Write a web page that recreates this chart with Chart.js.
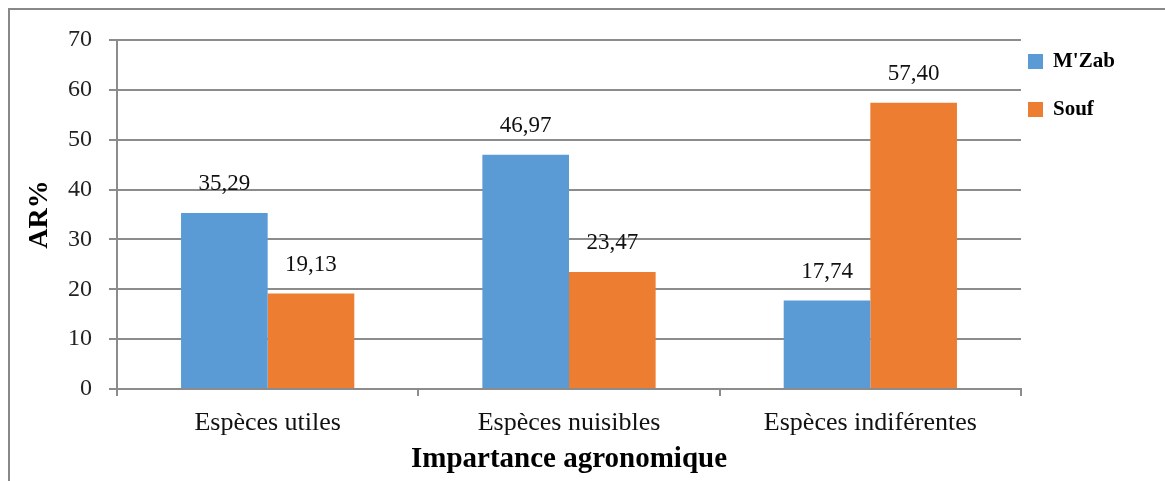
<!DOCTYPE html>
<html>
<head>
<meta charset="utf-8">
<script src="https://cdn.jsdelivr.net/npm/chart.js@4"></script>
<style>
  html, body { margin: 0; padding: 0; background: #fff; }
  #wrap { width: 1165px; height: 481px; }
</style>
</head>
<body>
<div id="wrap"><canvas id="chart" width="1165" height="481"></canvas></div>
<script>
// data
const categories = ['Espèces utiles', 'Espèces nuisibles', 'Espèces indiférentes'];
const mzab = [35.29, 46.97, 17.74];
const souf = [19.13, 23.47, 57.40];
const yTicks = [0, 10, 20, 30, 40, 50, 60, 70];

const SERIF = '"Liberation Serif", "Times New Roman", serif';
const GREY = '#8c8c8c';

// outer grey frame (only top/left visible in the picture)
const framePlugin = {
  id: 'frame',
  beforeDraw(chart) {
    const ctx = chart.ctx;
    ctx.save();
    ctx.fillStyle = '#fff';
    ctx.fillRect(0, 0, chart.width, chart.height);
    ctx.strokeStyle = '#888';
    ctx.lineWidth = 2;
    ctx.strokeRect(9, 9, 2000, 2000);
    ctx.restore();
  }
};

// value labels above bars, decimal comma
const valueLabels = {
  id: 'valueLabels',
  afterDatasetsDraw(chart) {
    const ctx = chart.ctx;
    ctx.save();
    ctx.font = '23px ' + SERIF;
    ctx.fillStyle = '#111';
    ctx.textAlign = 'center';
    ctx.textBaseline = 'middle';
    chart.data.datasets.forEach((ds, i) => {
      chart.getDatasetMeta(i).data.forEach((bar, j) => {
        const txt = ds.data[j].toFixed(2).replace('.', ',');
        ctx.fillText(txt, bar.x, bar.y - 29);
      });
    });
    ctx.restore();
  }
};

// legend on the right, drawn by hand to sit where the original has it
const sideLegend = {
  id: 'sideLegend',
  afterDraw(chart) {
    const ctx = chart.ctx;
    ctx.save();
    ctx.font = 'bold 21px ' + SERIF;
    ctx.textBaseline = 'middle';
    chart.data.datasets.forEach((ds, i) => {
      const y = 61 + i * 48;
      ctx.fillStyle = ds.backgroundColor;
      ctx.fillRect(1028, y - 7, 15, 15);
      ctx.fillStyle = '#000';
      ctx.fillText(ds.label, 1053, y + 1);
    });
    ctx.restore();
  }
};

new Chart(document.getElementById('chart'), {
  type: 'bar',
  data: {
    labels: categories,
    datasets: [
      { label: "M'Zab", data: mzab, backgroundColor: '#5B9BD5' },
      { label: 'Souf', data: souf, backgroundColor: '#ED7D31' }
    ]
  },
  options: {
    responsive: false,
    animation: false,
    devicePixelRatio: 1,
    layout: { padding: { left: 0, top: 40, right: 144, bottom: 0 } },
    plugins: {
      legend: { display: false },
      tooltip: { enabled: false }
    },
    datasets: {
      bar: { barPercentage: 1, categoryPercentage: 0.575 }
    },
    scales: {
      x: {
        grid: { display: true, drawOnChartArea: false, color: GREY, lineWidth: 2, tickLength: 7, offset: true },
        border: { color: GREY, width: 2 },
        ticks: { font: { family: SERIF, size: 26 }, color: '#111', padding: 12, maxRotation: 0 },
        title: {
          display: true, text: 'Impartance agronomique',
          font: { family: SERIF, size: 29, weight: 'bold' }, color: '#000',
          padding: { top: 0, bottom: 4 }
        },
        afterFit(scale) { scale.height = 92; }
      },
      y: {
        min: 0, max: 70,
        afterBuildTicks(scale) { scale.ticks = yTicks.map(v => ({ value: v })); },
        grid: { color: GREY, lineWidth: 2, tickLength: 8 },
        border: { color: GREY, width: 2 },
        ticks: { font: { family: SERIF, size: 24 }, color: '#222', padding: 17 },
        title: {
          display: true, text: 'AR%',
          font: { family: SERIF, size: 28, weight: 'bold' }, color: '#000',
          padding: { top: 23, bottom: 0 }
        },
        afterFit(scale) { scale.width = 117; }
      }
    }
  },
  plugins: [framePlugin, valueLabels, sideLegend]
});
</script>
</body>
</html>
